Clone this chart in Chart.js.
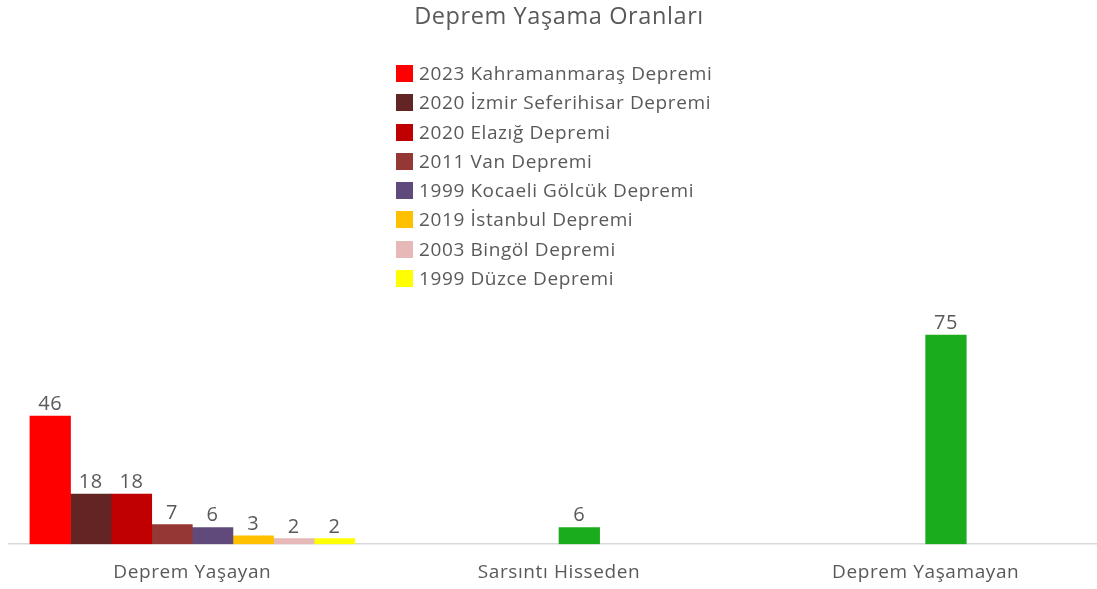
<!DOCTYPE html>
<html>
<head>
<meta charset="utf-8">
<script src="https://cdn.jsdelivr.net/npm/chart.js@4/dist/chart.umd.min.js"></script>
<style>
    html, body { margin: 0; padding: 0; background: #fff; overflow: hidden; }
    #wrap { position: relative; width: 1118px; height: 606px; }
    #legend {
        position: absolute; left: 396px; top: 59px;
        font-family: 'Open Sans', sans-serif; font-size: 19px; letter-spacing: 0.6px;
        color: #595959;
    }
    #legend .item { height: 29.3px; line-height: 29.3px; white-space: nowrap; }
    #legend .box {
        display: inline-block; width: 17px; height: 17px; margin-right: 6px;
        vertical-align: -2px;
    }
</style>
</head>
<body>
<div id="wrap">
    <canvas id="depremChart"></canvas>
    <div id="legend"></div>
</div>
<script>
    var categories = ['Deprem Yaşayan', 'Sarsıntı Hisseden', 'Deprem Yaşamayan'];

    // Earthquakes experienced (first category only)
    var depremNames = [
        '2023 Kahramanmaraş Depremi',
        '2020 İzmir Seferihisar Depremi',
        '2020 Elazığ Depremi',
        '2011 Van Depremi',
        '1999 Kocaeli Gölcük Depremi',
        '2019 İstanbul Depremi',
        '2003 Bingöl Depremi',
        '1999 Düzce Depremi'
    ];
    var depremValues = [46, 18, 18, 7, 6, 3, 2, 2];
    var depremColors = ['#FF0000', '#632523', '#C00000', '#953735', '#604A7B', '#FFC000', '#E6B9B8', '#FFFF00'];

    // Other two categories (green bars)
    var digerValues = [null, 6, 75];
    var digerColor = '#1AAC1C';
    // empty slot next to the green bars (as in the original sheet)
    var boslukValues = [null, 0, 0];

    var yMax = 80;
    var textColor = '#595959';

    var datasets = [];
    for (var i = 0; i < depremNames.length; i++) {
        datasets.push({
            label: depremNames[i],
            data: [depremValues[i], null, null],
            backgroundColor: depremColors[i],
            borderWidth: 0
        });
    }
    datasets.push({ label: '', data: boslukValues, backgroundColor: 'rgba(0,0,0,0)', borderWidth: 0, noLabel: true });
    datasets.push({ label: 'Diğer', data: digerValues, backgroundColor: digerColor, borderWidth: 0 });

    // canvas letter spacing, to get closer to the original text widths
    var spacingPlugin = {
        id: 'spacing',
        beforeLayout: function(chart) { chart.ctx.letterSpacing = '0.6px'; },
        beforeDraw: function(chart) { chart.ctx.letterSpacing = '0.6px'; }
    };

    // values above the bars
    var valueLabels = {
        id: 'valueLabels',
        afterDatasetsDraw: function(chart) {
            var ctx = chart.ctx;
            ctx.save();
            ctx.font = "20px 'Open Sans'";
            ctx.fillStyle = textColor;
            ctx.textAlign = 'center';
            ctx.textBaseline = 'alphabetic';
            chart.data.datasets.forEach(function(ds, di) {
                if (ds.noLabel) return;
                var meta = chart.getDatasetMeta(di);
                meta.data.forEach(function(bar, idx) {
                    var v = ds.data[idx];
                    if (v === null || v === undefined) return;
                    ctx.fillText(String(v), bar.x, bar.y - 6);
                });
            });
            ctx.restore();
        }
    };

    Chart.defaults.font.family = "'Open Sans', sans-serif";
    Chart.defaults.color = textColor;

    var chart = new Chart(document.getElementById('depremChart'), {
        type: 'bar',
        data: { labels: categories, datasets: datasets },
        options: {
            responsive: true,
            maintainAspectRatio: false,
            animation: false,
            layout: { padding: { left: 9, right: 9, bottom: 5 } },
            datasets: {
                bar: { skipNull: true, barThickness: 40.6 }
            },
            plugins: {
                legend: { display: false },
                tooltip: { enabled: false },
                title: {
                    display: true,
                    text: 'Deprem Yaşama Oranları',
                    color: textColor,
                    font: { size: 23.5, weight: 'normal' },
                    padding: { top: 3, bottom: 290 }
                }
            },
            scales: {
                x: {
                    grid: { display: false, drawTicks: false },
                    border: { display: true, color: '#D9D9D9', width: 1.5 },
                    ticks: { padding: 17, color: textColor, font: { size: 19 } }
                },
                y: {
                    display: false,
                    min: 0,
                    max: yMax
                }
            }
        },
        plugins: [spacingPlugin, valueLabels]
    });

    // vertical legend like the original
    var legendEl = document.getElementById('legend');
    for (var j = 0; j < depremNames.length; j++) {
        var row = document.createElement('div');
        row.className = 'item';
        var box = document.createElement('span');
        box.className = 'box';
        box.style.background = depremColors[j];
        row.appendChild(box);
        row.appendChild(document.createTextNode(depremNames[j]));
        legendEl.appendChild(row);
    }
</script>
</body>
</html>
